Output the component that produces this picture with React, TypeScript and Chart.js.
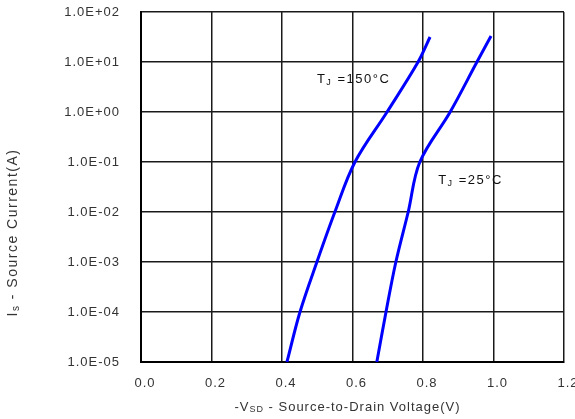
import React, { useEffect, useRef } from "react";
import { Chart, registerables } from "chart.js";

Chart.register(...registerables);

// ---- Data ----
const vsd150 = [0.414, 0.451, 0.499, 0.55, 0.607, 0.698, 0.786, 0.82];
const is150 = [1e-5, 1e-4, 1e-3, 1e-2, 1e-1, 1, 10, 31.6];
const vsd25 = [0.669, 0.695, 0.723, 0.758, 0.791, 0.877, 0.953, 0.993];
const is25 = [1e-5, 1e-4, 1e-3, 1e-2, 1e-1, 1, 10, 33];

const yTickValues = [1e-5, 1e-4, 1e-3, 1e-2, 1e-1, 1, 10, 100];
const xMin = 0;
const xMax = 1.2;
const xStep = 0.2;

// curve annotation labels
const labelX = [0.499, 0.843];
const labelY = [4.4, 0.042];
const labelText = ["=150°C", "=25°C"];

const FONT = "'Liberation Sans', Arial, sans-serif";

function fmtExp(v: number): string {
  const e = Math.round(Math.log10(v));
  const sign = e < 0 ? "-" : "+";
  const a = Math.abs(e);
  return "1.0E" + sign + (a < 10 ? "0" + a : String(a));
}

type Part = { t: string; sub?: boolean };

function drawRich(ctx: CanvasRenderingContext2D, parts: Part[], x: number, y: number, align: "left" | "center", size: number, color: string) {
  const subSize = Math.round(size * 0.68);
  let total = 0;
  const widths = parts.map((p) => {
    ctx.font = `${p.sub ? subSize : size}px ${FONT}`;
    const w = ctx.measureText(p.t).width;
    total += w;
    return w;
  });
  let cx = align === "center" ? x - total / 2 : x;
  ctx.fillStyle = color;
  ctx.textBaseline = "middle";
  ctx.textAlign = "left";
  parts.forEach((p, i) => {
    ctx.font = `${p.sub ? subSize : size}px ${FONT}`;
    ctx.fillText(p.t, cx, p.sub ? y + size * 0.22 : y);
    cx += widths[i];
  });
}

const textPlugin = {
  id: "textPlugin",
  beforeDraw(chart: any) {
    chart.ctx.letterSpacing = "1px";
  },
  afterDraw(chart: any) {
    const ctx: CanvasRenderingContext2D = chart.ctx;
    const xs = chart.scales.x;
    const ys = chart.scales.y;
    ctx.save();
    ctx.letterSpacing = "1.5px";
    for (let i = 0; i < labelX.length; i++) {
      const px = xs.getPixelForValue(labelX[i]);
      const py = ys.getPixelForValue(labelY[i]);
      drawRich(ctx, [{ t: "T" }, { t: "J", sub: true }, { t: " " + labelText[i] }], px, py, "left", 13, "#111");
    }
    const area = chart.chartArea;
    ctx.letterSpacing = "1px";
    drawRich(
      ctx,
      [{ t: "-V" }, { t: "SD", sub: true }, { t: " - Source-to-Drain Voltage(V)" }],
      (area.left + area.right) / 2 - 5,
      area.bottom + 45,
      "center",
      13,
      "#333"
    );
    ctx.save();
    ctx.letterSpacing = "1.5px";
    ctx.translate(13, area.top + (area.bottom - area.top) * 0.63);
    ctx.rotate(-Math.PI / 2);
    drawRich(ctx, [{ t: "I" }, { t: "s", sub: true }, { t: " - Source Current(A)" }], 0, 0, "center", 14, "#333");
    ctx.restore();
    ctx.restore();
  },
};

export default function App() {
  const ref = useRef<HTMLCanvasElement>(null);
  useEffect(() => {
    document.body.style.margin = "0";
    const canvas = ref.current!;
    const gridColor = "#1a1a1a";
    const chart = new Chart(canvas, {
      type: "line",
      data: {
        datasets: [
          {
            label: "TJ=150°C",
            data: vsd150.map((v, i) => ({ x: v, y: is150[i] })),
            borderColor: "#0000ff",
            borderWidth: 3,
            pointRadius: 0,
            tension: 0.35,
            fill: false,
          },
          {
            label: "TJ=25°C",
            data: vsd25.map((v, i) => ({ x: v, y: is25[i] })),
            borderColor: "#0000ff",
            borderWidth: 3,
            pointRadius: 0,
            tension: 0.35,
            fill: false,
          },
        ],
      },
      options: {
        animation: false,
        responsive: true,
        maintainAspectRatio: false,
        layout: { padding: { left: 0, top: 12, right: 11, bottom: 0 } },
        plugins: { legend: { display: false }, tooltip: { enabled: false } },
        scales: {
          x: {
            type: "linear",
            min: xMin,
            max: xMax,
            ticks: {
              stepSize: xStep,
              padding: 14,
              labelOffset: 4,
              color: "#333",
              font: { family: FONT, size: 13 },
              callback: (v: any) => Number(v).toFixed(1),
            },
            grid: { color: gridColor, lineWidth: 1.5, drawTicks: false },
            border: { color: "#000", width: 2 },
            afterFit: (s: any) => {
              s.height = 57;
              s.paddingLeft = 0;
              s.paddingRight = 0;
            },
          },
          y: {
            type: "logarithmic",
            min: 1e-5,
            max: 100,
            afterBuildTicks: (s: any) => {
              s.ticks = yTickValues.map((v) => ({ value: v }));
            },
            ticks: {
              padding: 21,
              color: "#333",
              font: { family: FONT, size: 13 },
              callback: (v: any) => fmtExp(Number(v)),
            },
            grid: { color: gridColor, lineWidth: 1.5, drawTicks: false },
            border: { color: "#000", width: 2 },
            afterFit: (s: any) => {
              s.width = 141;
              s.paddingTop = 0;
              s.paddingBottom = 0;
            },
          },
        },
      },
      plugins: [textPlugin],
    });
    return () => chart.destroy();
  }, []);
  return (
    <div style={{ width: 575, height: 419, position: "relative" }}>
      <canvas ref={ref} />
    </div>
  );
}
